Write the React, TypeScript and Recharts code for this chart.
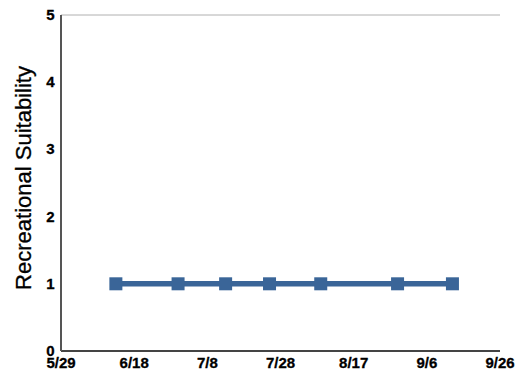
import { LineChart, Line, XAxis, YAxis, CartesianGrid } from "recharts";

const START = "5/29";
const sampleDates = ["6/13", "6/30", "7/13", "7/25", "8/8", "8/29", "9/13"];
const suitability = [1, 1, 1, 1, 1, 1, 1];
const xTickLabels = ["5/29", "6/18", "7/8", "7/28", "8/17", "9/6", "9/26"];
const yTicks = [0, 1, 2, 3, 4, 5];

const dayOf = (md: string) => {
  const [m, d] = md.split("/").map(Number);
  const t = Date.UTC(2020, m - 1, d);
  const [sm, sd] = START.split("/").map(Number);
  return Math.round((t - Date.UTC(2020, sm - 1, sd)) / 86400000);
};

const data = sampleDates.map((d, i) => ({ day: dayOf(d), value: suitability[i] }));
const xTicks = xTickLabels.map(dayOf);

const font = "Liberation Sans, Arial, sans-serif";

const XTick = (p: any) => (
  <text x={p.x} y={368} textAnchor="middle" fontFamily={font} fontSize={15} fontWeight="bold" fill="#000" stroke="#000" strokeWidth={0.3}>
    {xTickLabels[xTicks.indexOf(p.payload.value)]}
  </text>
);

const YTick = (p: any) => (
  <text x={54.5} y={p.y + 5} textAnchor="end" fontFamily={font} fontSize={15} fontWeight="bold" fill="#000" stroke="#000" strokeWidth={0.3}>
    {p.payload.value}
  </text>
);

const YLabel = () => (
  <text
    x={23}
    y={178}
    transform="rotate(-90 23 178)"
    textAnchor="middle"
    dominantBaseline="central"
    fontFamily={font}
    fontSize={22}
    fill="#000"
    stroke="#000"
    strokeWidth={0.3}
  >
    Recreational Suitability
  </text>
);

export default function App() {
  return (
    <div style={{ position: "absolute", left: 0, top: 0, background: "#fff" }}>
      <LineChart width={515} height={371} data={data} margin={{ top: 15, right: 15, left: 0, bottom: 0 }}>
        <CartesianGrid horizontal vertical={false} stroke="#b0b0b0" />
        <XAxis
          dataKey="day"
          type="number"
          domain={[0, 120]}
          ticks={xTicks}
          height={20}
          tickLine={false}
          tick={<XTick />}
          axisLine={{ stroke: "#444", strokeWidth: 2 }}
          interval={0}
        />
        <YAxis
          yAxisId="left"
          domain={[0, 5]}
          ticks={yTicks}
          width={61}
          tickLine={false}
          tick={<YTick />}
          axisLine={{ stroke: "#555", strokeWidth: 2 }}
          label={<YLabel />}
          interval={0}
        />
        <YAxis
          yAxisId="right"
          orientation="right"
          domain={[0, 5]}
          width={0}
          tick={false}
          tickLine={false}
          axisLine={{ stroke: "#444", strokeWidth: 1.5 }}
        />
        <Line
          yAxisId="left"
          dataKey="value"
          stroke="#3a6598"
          strokeWidth={5.5}
          isAnimationActive={false}
          dot={(p: any) => (
            <rect key={p.index} x={p.cx - 6.5} y={p.cy - 6.5} width={13} height={13} fill="#3a6598" />
          )}
        />
      </LineChart>
    </div>
  );
}
